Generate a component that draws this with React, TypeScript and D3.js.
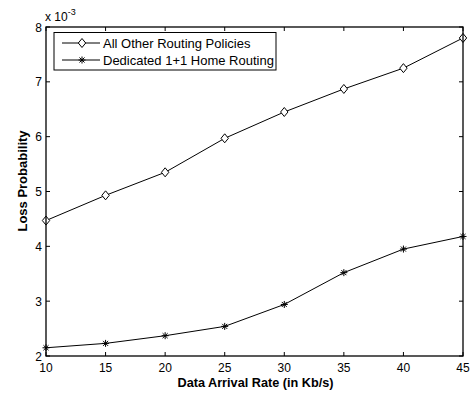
import React from "react";
import * as d3 from "d3";

const rates = [10, 15, 20, 25, 30, 35, 40, 45];
const otherPolicies = [4.47, 4.93, 5.35, 5.97, 6.45, 6.87, 7.25, 7.8];
const dedicatedHome = [2.15, 2.23, 2.37, 2.54, 2.94, 3.52, 3.95, 4.18];
const xTicks = [10, 15, 20, 25, 30, 35, 40, 45];
const yTicks = [2, 3, 4, 5, 6, 7, 8];
const seriesNames = ["All Other Routing Policies", "Dedicated 1+1 Home Routing"];

const W = 470, H = 394;
const m = { left: 46, right: 463, top: 27, bottom: 356 };
const font = "Liberation Sans, Arial, Helvetica, sans-serif";

function Star({ x, y }: { x: number; y: number }) {
  const r = 3.5;
  const d = r * 0.72;
  return (
    <g stroke="#000" strokeWidth={1}>
      <line x1={x - r} y1={y} x2={x + r} y2={y} />
      <line x1={x} y1={y - r} x2={x} y2={y + r} />
      <line x1={x - d} y1={y - d} x2={x + d} y2={y + d} />
      <line x1={x - d} y1={y + d} x2={x + d} y2={y - d} />
    </g>
  );
}

function Diamond({ x, y }: { x: number; y: number }) {
  const r = 4.5;
  return (
    <path
      d={`M${x},${y - r}L${x + 3.7},${y}L${x},${y + r}L${x - 3.7},${y}Z`}
      fill="#fff"
      stroke="#000"
      strokeWidth={1}
    />
  );
}

export default function App() {
  const x = d3.scaleLinear().domain([10, 45]).range([m.left, m.right]);
  const y = d3.scaleLinear().domain([2, 8]).range([m.bottom, m.top]);
  const line = d3
    .line<number>()
    .x((_, i) => x(rates[i]))
    .y((d) => y(d));

  const tl = 4;
  return (
    <svg width={W} height={H} style={{ position: "absolute", left: 0, top: 0 }} fontFamily={font}>
      <rect x={0} y={0} width={W} height={H} fill="#fff" />
      {xTicks.map((t) => (
        <g key={"x" + t} stroke="#000" strokeWidth={1}>
          <line x1={x(t)} x2={x(t)} y1={m.bottom} y2={m.bottom - tl} />
          <line x1={x(t)} x2={x(t)} y1={m.top} y2={m.top + tl} />
        </g>
      ))}
      {yTicks.map((t) => (
        <g key={"y" + t} stroke="#000" strokeWidth={1}>
          <line x1={m.left} x2={m.left + tl} y1={y(t)} y2={y(t)} />
          <line x1={m.right} x2={m.right - tl} y1={y(t)} y2={y(t)} />
        </g>
      ))}
      {xTicks.map((t) => (
        <text key={"xl" + t} x={x(t)} y={m.bottom + 15.5} fontSize={12} textAnchor="middle" fill="#000">
          {t}
        </text>
      ))}
      {yTicks.map((t) => (
        <text key={"yl" + t} x={m.left - 4} y={y(t) + 4.5} fontSize={12} textAnchor="end" fill="#000">
          {t}
        </text>
      ))}
      <text x={m.left - 1} y={21} fontSize={12} fill="#000">
        x 10
        <tspan fontSize={9} dy={-6}>-3</tspan>
      </text>
      <path d={line(otherPolicies) || ""} fill="none" stroke="#000" strokeWidth={1} />
      <path d={line(dedicatedHome) || ""} fill="none" stroke="#000" strokeWidth={1} />
      {otherPolicies.map((v, i) => (
        <Diamond key={"d" + i} x={x(rates[i])} y={y(v)} />
      ))}
      {dedicatedHome.map((v, i) => (
        <Star key={"s" + i} x={x(rates[i])} y={y(v)} />
      ))}
      <rect x={m.left} y={m.top} width={m.right - m.left} height={m.bottom - m.top} fill="none" stroke="#000" strokeWidth={1.3} />
      {/* legend */}
      <rect x={54} y={32.5} width={222} height={37.5} fill="#fff" stroke="#000" strokeWidth={1} />
      <line x1={62} x2={100} y1={43} y2={43} stroke="#000" />
      <Diamond x={82} y={43} />
      <text x={103} y={47.5} fontSize={13} fill="#000">{seriesNames[0]}</text>
      <line x1={62} x2={100} y1={60} y2={60} stroke="#000" />
      <Star x={82} y={60} />
      <text x={103} y={64.5} fontSize={13} fill="#000">{seriesNames[1]}</text>
      <text x={(m.left + m.right) / 2 + 1} y={387} fontSize={12.7} fontWeight="bold" textAnchor="middle" fill="#000">
        Data Arrival Rate (in Kb/s)
      </text>
      <text
        transform={`translate(27,181) rotate(-90)`}
        fontSize={13}
        fontWeight="bold"
        textAnchor="middle"
        fill="#000"
      >
        Loss Probability
      </text>
    </svg>
  );
}
